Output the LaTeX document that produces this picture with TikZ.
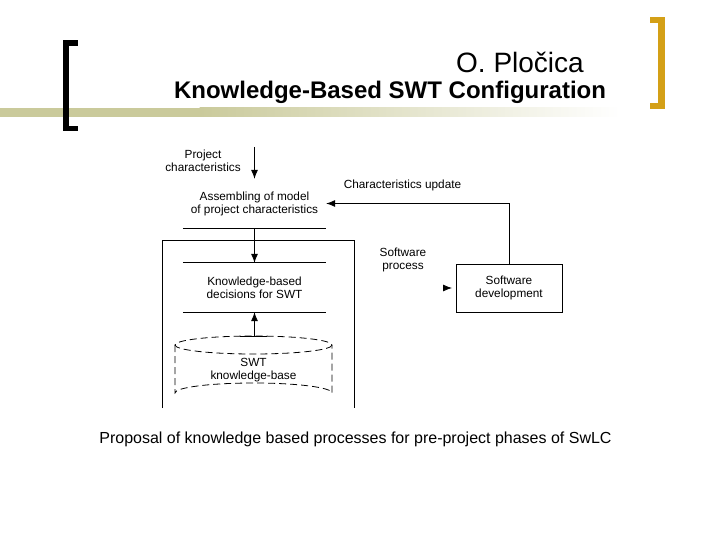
\documentclass[tikz,border=0pt]{standalone}
\usepackage{fontspec}
\setmainfont{Liberation Sans}
\usetikzlibrary{arrows.meta}
\definecolor{khaki}{RGB}{202,202,155}
\definecolor{gold}{RGB}{212,160,23}
\tikzset{
  dtext/.style={font=\fontsize{11.8}{13}\selectfont, align=center, inner sep=0pt},
  conn/.style={line width=0.8pt, -{Latex[length=9pt,width=7pt]}},
  rule/.style={line width=0.8pt},
  boxline/.style={line width=0.8pt},
}
\begin{document}
\begin{tikzpicture}[x=1pt,y=-1pt]
\useasboundingbox (0,0) rectangle (720,540);
% header bar
\fill[khaki] (0,108) rectangle (200,117);
\shade[left color=khaki, right color=white] (199.5,108) rectangle (620,117);
% brackets
\fill[black] (62.5,40.5) rectangle (68.5,131.5);
\fill[black] (62.5,40.5) rectangle (77.5,46);
\fill[black] (62.5,126) rectangle (77.5,131.5);
\fill[gold] (658,17) rectangle (665,109);
\fill[gold] (650,17) rectangle (665,23);
\fill[gold] (650,103) rectangle (665,109);
% titles
\node[font=\fontsize{28}{30}\selectfont, inner sep=0pt] (author) at (520,62) {O. Pločica};
\node[font=\fontsize{24}{27}\selectfont\bfseries, inner sep=0pt] (title) at (390,92) {Knowledge-Based SWT Configuration};
% diagram
\node[dtext] (pc) at (203,160.5) {Project\\characteristics};
\coordinate (pcin) at (254.5,147);
\node[dtext, minimum width=143pt, minimum height=49pt] (asm) at (254.5,203.5) {Assembling of model\\of project characteristics};
\draw[boxline] (asm.south west) -- (asm.south east);
\draw[conn] (pcin) -- (asm.north);
% outer frame
\draw[rule] (162,408) -- (162,240) -- (354,240) -- (354,408);
\node[dtext, minimum width=143pt, minimum height=49pt] (kb) at (254.5,287.5) {Knowledge-based\\decisions for SWT};
\draw[boxline] (kb.north west) -- (kb.north east);
\draw[boxline] (kb.south west) -- (kb.south east);
\draw[conn] (asm.south) -- (kb.north);
% cylinder
\draw[rule, dashed, dash pattern=on 7pt off 4pt] (253.5,345) ellipse [x radius=78.5, y radius=9];
\draw[rule, dashed, dash pattern=on 7pt off 4pt] (175,345) -- (175,393) arc[start angle=180, end angle=360, x radius=78.5, y radius=10] -- (332,345);
\node[dtext] (base) at (253.5,370.5) {SWT\\knowledge-base};
\coordinate (bt) at (254.5,336);
\draw[boxline] (240,336) -- (267,336);
\draw[conn] (bt) -- (kb.south);
% right side
\node[dtext] (cu) at (402.5,185) {Characteristics update};
\node[dtext] (sp) at (403,260) {Software\\process};
\node[dtext, draw, line width=0.8pt, minimum width=106pt, minimum height=48pt] (sd) at (509,288) {Software\\development};
\draw[conn] (sd.north) |- (asm.east);
\coordinate (spin) at (443,288);
\draw[conn] (spin) -- (452,288);
% caption
\node[font=\fontsize{16}{18}\selectfont, inner sep=0pt] (cap) at (355.5,439) {Proposal of knowledge based processes for pre-project phases of SwLC};
\end{tikzpicture}
\end{document}
